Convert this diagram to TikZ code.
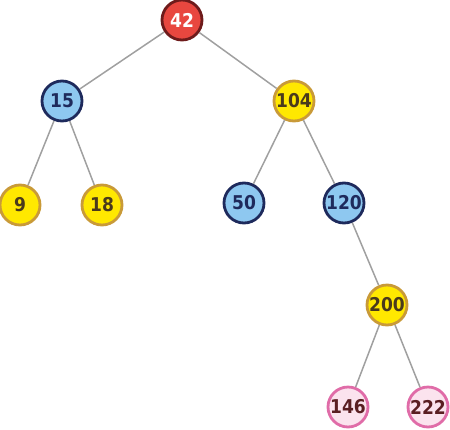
\documentclass[tikz,border=0pt]{standalone}
\usepackage{fontspec}
\setmainfont{DejaVu Sans Condensed}
\definecolor{redfill}{HTML}{E8473F}
\definecolor{redline}{HTML}{6E1B1B}
\definecolor{bluefill}{HTML}{8EC8F0}
\definecolor{blueline}{HTML}{1E2A5C}
\definecolor{yelfill}{HTML}{FFE800}
\definecolor{yelline}{HTML}{C99A38}
\definecolor{yeltext}{HTML}{4A3A1C}
\definecolor{pinkfill}{HTML}{FBE3EE}
\definecolor{pinkline}{HTML}{E06CA8}
\definecolor{pinktext}{HTML}{5A1E22}
\definecolor{edgegray}{HTML}{A0A0A0}
\begin{document}
\begin{tikzpicture}[x=1pt,y=-1pt,
  bnode/.style={circle,minimum size=40pt,inner sep=0pt,line width=2.8pt,font=\fontsize{19}{19}\selectfont\bfseries},
  rednode/.style={bnode,fill=redfill,draw=redline,text=white},
  bluenode/.style={bnode,fill=bluefill,draw=blueline,text=blueline},
  yelnode/.style={bnode,fill=yelfill,draw=yelline,text=yeltext},
  pinknode/.style={bnode,fill=pinkfill,draw=pinkline,text=pinktext},
  edge/.style={draw=edgegray,line width=1.5pt}]
\useasboundingbox (0,0) rectangle (450,429);
\node[rednode] (n42) at (182,20) {42};
\node[bluenode] (n15) at (62,101) {15};
\node[yelnode] (n104) at (294,101) {104};
\node[yelnode] (n9) at (20,205) {9};
\node[yelnode] (n18) at (102,205) {18};
\node[bluenode] (n50) at (244,203) {50};
\node[bluenode] (n120) at (344,203) {120};
\node[yelnode] (n200) at (387,305) {200};
\node[pinknode] (n146) at (348,407) {146};
\node[pinknode] (n222) at (428,407) {222};
\path[edge] (n42) -- (n15);
\path[edge] (n42) -- (n104);
\path[edge] (n15) -- (n9);
\path[edge] (n15) -- (n18);
\path[edge] (n104) -- (n50);
\path[edge] (n104) -- (n120);
\path[edge] (n120) -- (n200);
\path[edge] (n200) -- (n146);
\path[edge] (n200) -- (n222);
\end{tikzpicture}
\end{document}
